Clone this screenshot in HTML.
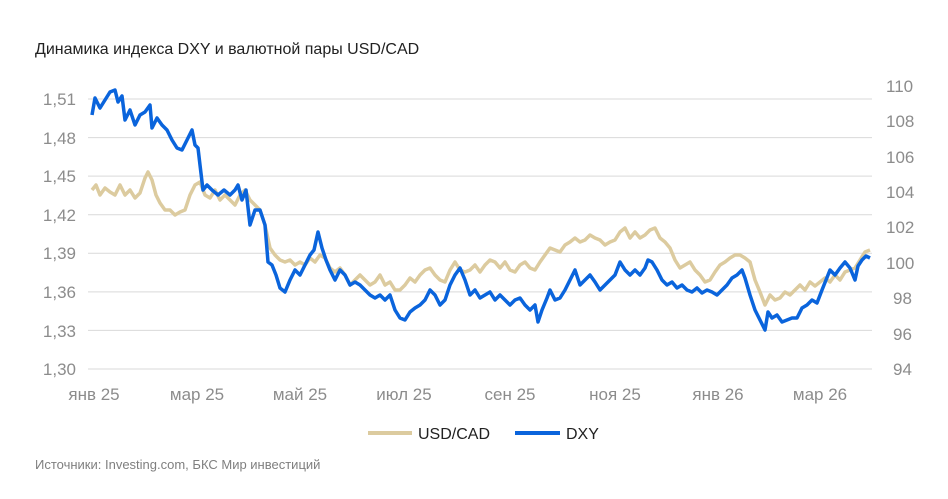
<!DOCTYPE html>
<html><head><meta charset="utf-8"><style>
body{margin:0;background:#fff;width:948px;height:494px;overflow:hidden;font-family:"Liberation Sans",sans-serif}
</style></head><body>
<svg width="948" height="494" xmlns="http://www.w3.org/2000/svg" font-family="Liberation Sans, sans-serif">
<text x="35" y="54" font-size="16" fill="#222">Динамика индекса DXY и валютной пары USD/CAD</text>
<g stroke="#d9d9d9" stroke-width="1">
<line x1="88" x2="872" y1="99" y2="99"/><line x1="88" x2="872" y1="137.6" y2="137.6"/><line x1="88" x2="872" y1="176.1" y2="176.1"/><line x1="88" x2="872" y1="214.7" y2="214.7"/><line x1="88" x2="872" y1="253.3" y2="253.3"/><line x1="88" x2="872" y1="291.9" y2="291.9"/><line x1="88" x2="872" y1="330.4" y2="330.4"/><line x1="88" x2="872" y1="369" y2="369"/>
</g>
<g font-size="17" fill="#8c8c8c" text-anchor="end">
<text x="76" y="105">1,51</text><text x="76" y="144">1,48</text><text x="76" y="182">1,45</text><text x="76" y="221">1,42</text><text x="76" y="259">1,39</text><text x="76" y="298">1,36</text><text x="76" y="337">1,33</text><text x="76" y="375">1,30</text>
</g>
<g font-size="17" fill="#8c8c8c">
<text x="886" y="92">110</text><text x="886" y="127">108</text><text x="886" y="163">106</text><text x="886" y="198">104</text><text x="886" y="233">102</text><text x="886" y="269">100</text><text x="893" y="304">98</text><text x="893" y="340">96</text><text x="893" y="375">94</text>
</g>
<g font-size="17" fill="#8c8c8c" text-anchor="middle">
<text x="94" y="400">янв 25</text><text x="197" y="400">мар 25</text><text x="300" y="400">май 25</text><text x="404" y="400">июл 25</text><text x="510" y="400">сен 25</text><text x="615" y="400">ноя 25</text><text x="718" y="400">янв 26</text><text x="820" y="400">мар 26</text>
</g>
<polyline fill="none" stroke="#dccb9f" stroke-width="3.5" stroke-linejoin="round" points="92,190 96,185 100,195 105,188 110,192 115,195 120,185 125,195 130,190 135,198 140,193 145,178 148,172 152,180 156,195 160,203 165,210 170,210 175,215 180,212 185,210 190,195 195,185 200,182 205,195 210,198 215,190 220,200 225,195 230,200 235,205 240,195 245,190 250,200 255,205 260,210 265,225 270,248 275,255 280,260 285,262 290,260 295,265 300,262 305,265 310,258 315,262 320,255 325,258 330,268 335,272 340,268 345,275 350,285 355,280 360,275 365,280 370,285 375,282 380,275 385,285 390,282 395,290 400,290 405,285 410,278 415,282 420,275 425,270 430,268 435,275 440,280 445,282 450,270 455,262 460,270 465,272 470,270 475,265 480,272 485,265 490,260 495,262 500,268 505,262 510,270 515,272 520,265 525,262 530,268 535,270 540,262 545,255 550,248 555,250 560,252 565,245 570,242 575,238 580,242 585,240 590,235 595,238 600,240 605,245 610,242 615,240 620,232 625,228 630,238 635,232 640,238 645,235 650,230 655,228 660,238 665,242 670,248 675,260 680,268 685,265 690,262 695,270 700,275 705,282 710,280 715,272 720,265 725,262 730,258 735,255 740,255 745,258 750,262 755,280 760,292 765,305 770,295 775,300 780,298 785,292 790,295 795,290 800,285 805,290 810,282 815,286 820,282 825,278 830,282 835,275 840,280 845,272 850,270 855,268 860,260 865,252 870,250"/>
<polyline fill="none" stroke="#0a64dc" stroke-width="3.5" stroke-linejoin="round" points="92,115 95,98 100,108 105,100 110,92 115,90 118,102 122,96 125,120 130,110 135,125 140,115 145,112 150,105 152,128 157,118 162,125 167,130 172,140 177,148 182,150 187,140 192,130 195,145 198,148 200,165 203,190 207,185 212,190 218,195 224,190 230,195 235,190 238,185 242,200 246,190 250,225 255,210 260,210 265,225 268,262 272,265 276,275 280,288 285,292 290,280 295,270 300,275 305,265 310,255 314,250 318,232 322,248 326,260 330,270 335,280 340,270 345,275 350,285 355,282 360,285 365,290 370,295 375,298 380,295 385,300 390,295 395,310 400,318 405,320 410,312 415,308 420,305 425,300 430,290 435,295 440,305 445,300 450,285 455,275 460,268 465,280 470,295 475,290 480,298 485,295 490,292 495,300 500,295 505,300 510,305 515,300 520,298 525,305 530,310 535,305 538,322 542,310 547,298 550,290 555,300 560,298 565,290 570,280 575,270 580,285 585,280 590,275 595,282 600,290 605,285 610,280 615,275 620,262 625,270 630,275 635,270 640,275 645,268 648,260 652,262 657,270 662,280 667,285 672,282 677,288 682,285 687,290 692,292 697,288 702,293 707,290 712,292 717,295 722,290 727,285 732,278 737,275 742,270 745,278 750,295 755,310 760,320 765,330 768,312 772,318 777,315 782,322 787,320 792,318 797,318 802,308 807,305 812,300 817,303 822,290 826,280 830,270 835,275 840,268 845,262 850,268 855,280 858,266 862,260 866,256 870,258"/>
<line x1="368" x2="412" y1="433" y2="433" stroke="#dccb9f" stroke-width="4"/>
<text x="418" y="439" font-size="16" fill="#222">USD/CAD</text>
<line x1="515" x2="560" y1="433" y2="433" stroke="#0a64dc" stroke-width="4"/>
<text x="566" y="439" font-size="16" fill="#222">DXY</text>
<text x="35" y="469" font-size="13" fill="#7f7f7f">Источники: Investing.com, БКС Мир инвестиций</text>
</svg>
</body></html>
